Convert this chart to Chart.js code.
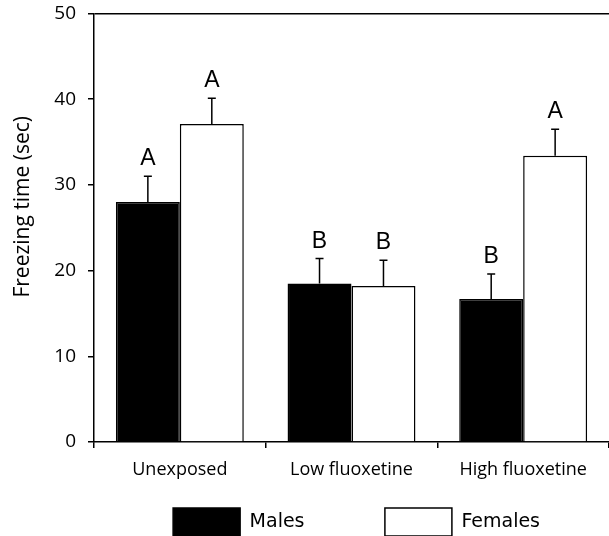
<!DOCTYPE html>
<html><head><meta charset="utf-8">
<script src="https://cdn.jsdelivr.net/npm/chart.js@4.4.1/dist/chart.umd.min.js"></script>
<style>html,body{margin:0;padding:0;background:#fff}#wrap{width:609px;height:536px;position:relative}</style>
</head><body><div id="wrap"><canvas id="c"></canvas></div>
<script>
const categories = ['Unexposed', 'Low fluoxetine', 'High fluoxetine'];
const malesMean = [28.0, 18.5, 16.7];
const malesSem = [3.0, 2.9, 2.9];
const femalesMean = [37.1, 18.2, 33.4];
const femalesSem = [3.0, 3.0, 3.1];
const malesLetters = ['A', 'B', 'B'];
const femalesLetters = ['A', 'B', 'A'];
const yMin = 0, yMax = 50, yStep = 10;

const errorPlugin = {
  id: 'errs',
  afterDatasetsDraw(chart) {
    const ctx = chart.ctx;
    const ys = chart.scales.y;
    chart.data.datasets.forEach((ds, i) => {
      const meta = chart.getDatasetMeta(i);
      meta.data.forEach((el, j) => {
        const top = ys.getPixelForValue(ds.data[j] + ds.sem[j]);
        ctx.save();
        ctx.strokeStyle = '#000';
        ctx.lineWidth = 1.5;
        ctx.beginPath();
        ctx.moveTo(el.x, el.y);
        ctx.lineTo(el.x, top);
        ctx.moveTo(el.x - 4, top);
        ctx.lineTo(el.x + 4, top);
        ctx.stroke();
        ctx.fillStyle = '#000';
        ctx.font = '23px "Liberation Sans", Arial, sans-serif';
        ctx.textAlign = 'center';
        ctx.textBaseline = 'alphabetic';
        ctx.fillText(ds.letters[j], el.x, top - 11);
        ctx.restore();
      });
    });
  }
};

const legendPad = ['\u2003\u2003\u2003\u2009\u2009\u2009', '\u2003\u2003\u2003'];

new Chart(document.getElementById('c'), {
  type: 'bar',
  data: {
    labels: categories,
    datasets: [
      { label: 'Males', data: malesMean, sem: malesSem, letters: malesLetters,
        backgroundColor: '#000', borderColor: '#000', borderWidth: 1.5 },
      { label: 'Females', data: femalesMean, sem: femalesSem, letters: femalesLetters,
        backgroundColor: '#fff', borderColor: '#000', borderWidth: 1.5 }
    ]
  },
  options: {
    responsive: true, maintainAspectRatio: false, animation: false, devicePixelRatio: 1,
    layout: { padding: { top: 13.5, right: 0, left: 0, bottom: -10 } },
    datasets: { bar: { categoryPercentage: 0.745, barPercentage: 1.0, borderSkipped: 'bottom' } },
    scales: {
      x: {
        offset: true,
        grid: { offset: true, drawOnChartArea: false, color: '#000', tickLength: 6, lineWidth: 1.5 },
        border: { color: '#000', width: 1.5 },
        ticks: { color: '#000', font: { family: '"Open Sans"', size: 18 }, padding: 11 },
        afterFit: s => { s.height = 54; }
      },
      y: {
        min: yMin, max: yMax,
        ticks: { stepSize: yStep, color: '#000', font: { family: '"Open Sans"', size: 19 }, padding: 12 },
        grid: { color: c => (c.tick && c.tick.value === yMax) ? '#000' : 'rgba(0,0,0,0)', tickColor: '#000', tickLength: 6, lineWidth: 1.5 },
        border: { color: '#000', width: 1.5 },
        title: { display: true, text: '\u2003\u2003Freezing time (sec)', color: '#000', font: { family: '"Open Sans"', size: 21 }, padding: { top: 10, bottom: 0 } },
        afterFit: s => { s.width = 94; s.paddingTop = 0; s.paddingBottom = 0; }
      }
    },
    plugins: {
      tooltip: { enabled: false },
      legend: {
        position: 'bottom', fullSize: false, align: 'end',
        labels: {
          boxWidth: 67, boxHeight: 28, padding: 12, color: '#000',
          font: { family: '"DejaVu Sans", sans-serif', size: 19 },
          generateLabels: chart => chart.data.datasets.map((ds, i) => ({
            text: ds.label + legendPad[i],
            fillStyle: ds.backgroundColor, strokeStyle: ds.borderColor, lineWidth: 1.5,
            datasetIndex: i, hidden: false
          }))
        }
      }
    }
  },
  plugins: [errorPlugin]
});
</script></body></html>
